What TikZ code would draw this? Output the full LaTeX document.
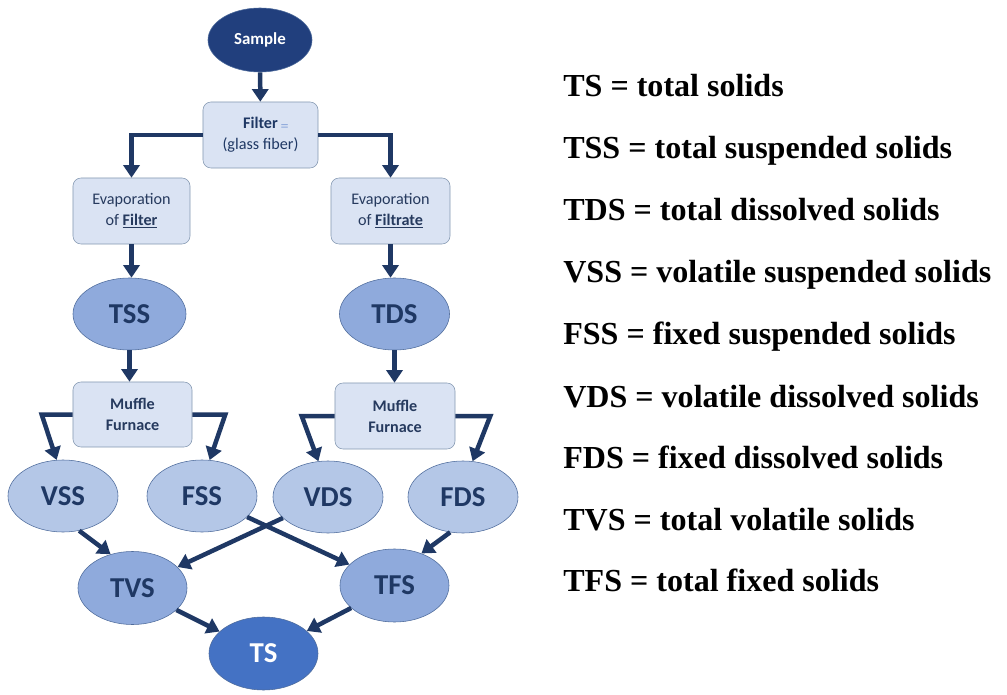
\documentclass[tikz,border=0pt]{standalone}
\usepackage{fontspec}
\setmainfont{Carlito}
\newfontfamily\legendfont{Liberation Serif}
\usetikzlibrary{shapes.geometric,arrows.meta}

\definecolor{navy}{HTML}{1F3864}
\definecolor{sampleblue}{HTML}{213F7D}
\definecolor{tsblue}{HTML}{4472C4}
\definecolor{midblue}{HTML}{8FAADC}
\definecolor{lightblue}{HTML}{B4C7E7}
\definecolor{boxfill}{HTML}{DAE3F3}
\definecolor{boxline}{HTML}{8397B0}
\definecolor{ellline}{HTML}{4F6C9C}
\definecolor{markblue}{HTML}{8FAADC}
\definecolor{boxtext}{HTML}{263A5E}

\begin{document}
\begin{tikzpicture}[x=0.025cm, y=-0.025cm,
  box/.style={draw=boxline, fill=boxfill, rounded corners=0.2cm, minimum height=1.65cm, inner sep=0pt, align=center, text=boxtext, font=\fontsize{11.5}{15}\selectfont},
  oval/.style={ellipse, draw=ellline, minimum width=2.75cm, minimum height=1.8cm, inner sep=0pt, text=navy, font=\fontsize{20.5}{22}\selectfont\bfseries},
  arr/.style={draw=navy, line width=3.2pt, -{Triangle[width=11.5pt,length=9pt]}},
  legend/.style={anchor=base west, inner sep=0pt, text=black, font=\legendfont\fontsize{22.8}{24}\selectfont\bfseries}]
\useasboundingbox (0,0) rectangle (1007,695);

\node[oval, fill=sampleblue, text=white, minimum width=2.6cm, minimum height=1.6cm, font=\fontsize{12}{13}\selectfont\bfseries] (sample) at (260,40) {Sample};
\node[box, minimum width=2.875cm, text=navy] (filter) at (260.5,135) {\textbf{Filter}\rlap{\,\raisebox{-2pt}{\color{markblue}=}}\\(glass fiber)};
\node[box, minimum width=2.925cm] (evapL) at (131.5,211) {Evaporation\\of \underline{\textbf{Filter}}};
\node[box, minimum width=2.975cm] (evapR) at (390.5,211) {Evaporation\\of \underline{\textbf{Filtrate}}};

\node[oval, fill=midblue, minimum width=2.825cm] (tss) at (129.5,314) {TSS};
\node[oval, fill=midblue] (tds) at (394.5,314) {TDS};

\node[box, minimum width=2.975cm, minimum height=1.625cm, font=\fontsize{11.5}{15}\selectfont\bfseries] (mufL) at (132.5,414.5) {Muffle\\Furnace};
\node[box, minimum width=3cm, font=\fontsize{11.5}{15}\selectfont\bfseries] (mufR) at (395,416) {Muffle\\Furnace};

\node[oval, fill=lightblue] (vss) at (63,496) {VSS};
\node[oval, fill=lightblue] (fss) at (202,496) {FSS};
\node[oval, fill=lightblue] (vds) at (328,497) {VDS};
\node[oval, fill=lightblue] (fds) at (463,497) {FDS};

\node[oval, fill=midblue, minimum width=2.725cm, minimum height=1.825cm] (tvs) at (132.5,588) {TVS};
\node[oval, fill=midblue, minimum width=2.725cm, minimum height=1.825cm] (tfs) at (394.5,585.5) {TFS};
\node[oval, fill=tsblue, text=white, minimum width=2.725cm, minimum height=1.825cm] (ts) at (263.5,653.5) {TS};

\draw[arr] (sample) -- (filter);
\draw[arr] (filter) -| (evapL);
\draw[arr] (filter) -| (evapR);
\draw[arr] (evapL) -- (evapL |- tss.north);
\draw[arr] (evapR) -- (evapR |- tds.north);
\draw[arr] (tss) -- (tss |- mufL.north);
\draw[arr] (tds) -- (tds |- mufR.north);

\draw[arr] (mufL.west) -- +(-31,0) -- (vss.100);
\draw[arr] (mufL.east) -- +(33,0) -- (fss.78);
\draw[arr] (mufR.west) -- +(-33,0) -- (vds.105);
\draw[arr] (mufR.east) -- +(35,0) -- (fds.75);

\draw[arr] (vss.295) -- (tvs.123);
\draw[arr] (fss) -- (tfs);
\draw[arr] (vds) -- (tvs);
\draw[arr] (fds.250) -- (tfs.50);
\draw[arr] (tvs) -- (ts);
\draw[arr] (tfs) -- (ts);

\node[legend] (lts) at (563,97) {TS = total solids};
\node[legend] (ltss) at (563,159) {TSS = total suspended solids};
\node[legend] (ltds) at (563,221) {TDS = total dissolved solids};
\node[legend] (lvss) at (563,283) {VSS = volatile suspended solids};
\node[legend] (lfss) at (563,345) {FSS = fixed suspended solids};
\node[legend] (lvds) at (563,407) {VDS = volatile dissolved solids};
\node[legend] (lfds) at (563,468) {FDS = fixed dissolved solids};
\node[legend] (ltvs) at (563,530) {TVS = total volatile solids};
\node[legend] (ltfs) at (563,591) {TFS = total fixed solids};
\end{tikzpicture}
\end{document}
